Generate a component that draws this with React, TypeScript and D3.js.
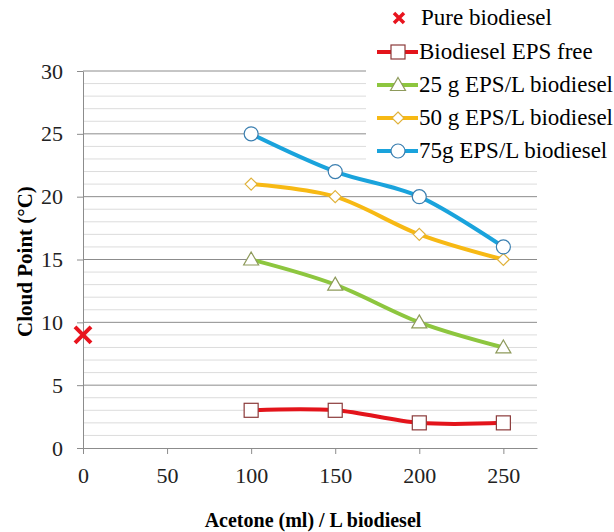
import React, { useRef, useEffect } from "react";
import * as d3 from "d3";

// data
const acetone = [100, 150, 200, 250];
const epsFree = [3, 3, 2, 2];
const eps25 = [15, 13, 10, 8];
const eps50 = [21, 20, 17, 15];
const eps75 = [25, 22, 20, 16];
const pure = { x: 0, y: 9 };
const xTicks = [0, 50, 100, 150, 200, 250];
const yTicks = [0, 5, 10, 15, 20, 25, 30];

const series = [
  { name: "Biodiesel EPS free", values: epsFree, color: "#E3141B", stroke: "#8B3A3A", shape: "square" },
  { name: "25 g EPS/L biodiesel", values: eps25, color: "#8DC63F", stroke: "#8E9A5B", shape: "triangle" },
  { name: "50 g EPS/L biodiesel", values: eps50, color: "#F7B914", stroke: "#E0B23A", shape: "diamond" },
  { name: "75g EPS/L biodiesel", values: eps75, color: "#1AA3DC", stroke: "#3B7FB0", shape: "circle" },
];

const font = "Liberation Serif";

const App = () => {
  const svgRef = useRef<SVGSVGElement>(null);

  useEffect(() => {
    const svg = d3.select(svgRef.current);
    svg.selectAll("*").remove();
    const width = 614;
    const height = 532;
    const m = { left: 83, right: 77, top: 71, bottom: 84 };

    const x = d3.scaleLinear().domain([0, 270]).range([m.left, width - m.right]);
    const y = d3.scaleLinear().domain([0, 30]).range([height - m.bottom, m.top]);

    svg.append("rect").attr("width", width).attr("height", height).attr("fill", "white");

    // minor gridlines
    svg.append("g")
      .selectAll("line")
      .data(d3.range(1, 30).filter((v) => v % 5 !== 0))
      .join("line")
      .attr("x1", x(0)).attr("x2", x(270))
      .attr("y1", (d) => y(d)).attr("y2", (d) => y(d))
      .attr("stroke", "#dcdcdc").attr("stroke-width", 1);

    // major gridlines
    svg.append("g")
      .selectAll("line")
      .data(yTicks.filter((v) => v > 0))
      .join("line")
      .attr("x1", x(0)).attr("x2", x(270))
      .attr("y1", (d) => y(d)).attr("y2", (d) => y(d))
      .attr("stroke", "#8c8c8c").attr("stroke-width", 1);

    // axes
    const xAxis = svg.append("g")
      .attr("transform", `translate(0,${y(0)})`)
      .call(d3.axisBottom(x).tickValues(xTicks).tickSize(6).tickPadding(13).tickSizeOuter(0));
    xAxis.attr("font-family", null).attr("font-size", null);
    xAxis.select(".domain").attr("stroke", "#8c8c8c");
    xAxis.selectAll(".tick line").attr("stroke", "#8c8c8c");
    xAxis.selectAll("text").style("font-family", font).style("font-size", "22px").attr("fill", "#222");

    const yAxis = svg.append("g")
      .attr("transform", `translate(${x(0)},0)`)
      .call(d3.axisLeft(y).tickValues(yTicks).tickSize(6).tickPadding(14).tickSizeOuter(0));
    yAxis.attr("font-family", null).attr("font-size", null);
    yAxis.select(".domain").attr("stroke", "#8c8c8c");
    yAxis.selectAll(".tick line").attr("stroke", "#8c8c8c");
    yAxis.selectAll("text").style("font-family", font).style("font-size", "22px").attr("fill", "#222");

    // axis titles
    svg.append("text")
      .attr("transform", `translate(32,${(y(0) + y(30)) / 2 + 2}) rotate(-90)`)
      .attr("text-anchor", "middle")
      .style("font-family", font).style("font-size", "21px").style("font-weight", "bold")
      .text("Cloud Point (°C)");
    svg.append("text")
      .attr("x", 313).attr("y", 527)
      .attr("text-anchor", "middle")
      .style("font-family", font).style("font-size", "20px").style("font-weight", "bold")
      .text("Acetone (ml) / L biodiesel");

    const drawMarker = (g: any, shape: string, cx: number, cy: number, stroke: string) => {
      if (shape === "square") {
        g.append("rect").attr("x", cx - 7).attr("y", cy - 7).attr("width", 14).attr("height", 14)
          .attr("fill", "white").attr("stroke", stroke).attr("stroke-width", 1.2);
      } else if (shape === "circle") {
        g.append("circle").attr("cx", cx).attr("cy", cy).attr("r", 7)
          .attr("fill", "white").attr("stroke", stroke).attr("stroke-width", 1.2);
      } else if (shape === "triangle") {
        g.append("path")
          .attr("d", `M${cx},${cy - 7.5}L${cx + 7.5},${cy + 5.5}L${cx - 7.5},${cy + 5.5}Z`)
          .attr("fill", "white").attr("stroke", stroke).attr("stroke-width", 1.2);
      } else if (shape === "diamond") {
        g.append("path")
          .attr("d", `M${cx},${cy - 6}L${cx + 6},${cy}L${cx},${cy + 6}L${cx - 6},${cy}Z`)
          .attr("fill", "white").attr("stroke", stroke).attr("stroke-width", 1.2);
      }
    };

    const drawCross = (g: any, cx: number, cy: number, s: number, w: number) => {
      g.append("path")
        .attr("d", `M${cx - s},${cy - s}L${cx + s},${cy + s}M${cx + s},${cy - s}L${cx - s},${cy + s}`)
        .attr("stroke", "#E8141E").attr("stroke-width", w).attr("fill", "none");
    };

    const line = d3.line<number>()
      .x((d, i) => x(acetone[i]))
      .y((d) => y(d))
      .curve(d3.curveCardinal.tension(0));

    const plot = svg.append("g");
    series.forEach((s) => {
      plot.append("path")
        .attr("d", line(s.values))
        .attr("fill", "none")
        .attr("stroke", s.color)
        .attr("stroke-width", 4)
        .attr("stroke-linejoin", "round");
    });
    series.forEach((s) => {
      s.values.forEach((v, i) => drawMarker(plot, s.shape, x(acetone[i]), y(v), s.stroke));
    });

    drawCross(plot, x(pure.x), y(pure.y), 8, 4);

    // legend
    const lg = svg.append("g");
    lg.append("rect").attr("x", 366).attr("y", 0).attr("width", 248).attr("height", 163).attr("fill", "white");
    const rowY = [18, 52, 85, 118, 151];
    drawCross(lg, 399, rowY[0], 5, 3.5);
    lg.append("text").attr("x", 421).attr("y", rowY[0] + 7)
      .style("font-family", font).style("font-size", "23px").text("Pure biodiesel");
    series.forEach((s, i) => {
      const ry = rowY[i + 1];
      lg.append("line").attr("x1", 377).attr("x2", 418).attr("y1", ry).attr("y2", ry)
        .attr("stroke", s.color).attr("stroke-width", 4);
      drawMarker(lg, s.shape, 398, ry, s.stroke);
      lg.append("text").attr("x", 419).attr("y", ry + 7)
        .style("font-family", font).style("font-size", "23px").text(s.name);
    });
  }, []);

  return <svg ref={svgRef} width={614} height={532} style={{ position: "absolute", left: 0, top: 0 }}></svg>;
};

export default App;
